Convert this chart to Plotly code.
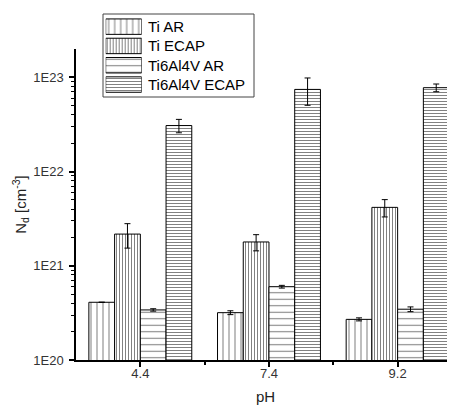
import plotly.graph_objects as go
import math

categories = ["4.4", "7.4", "9.2"]
ti_ar = [4.1e20, 3.18e20, 2.7e20]
ti_ar_err = [0.0, 0.15e20, 0.1e20]
ti_ecap = [2.17e21, 1.79e21, 4.17e21]
ti_ecap_err = [0.63e21, 0.35e21, 0.87e21]
tia_ar = [3.4e20, 6.0e20, 3.46e20]
tia_ar_err = [0.1e20, 0.2e20, 0.2e20]
tia_ecap = [3.08e22, 7.45e22, 7.77e22]
tia_ecap_err = [0.5e22, 2.4e22, 0.73e22]

series_names = ["Ti AR", "Ti ECAP", "Ti6Al4V AR", "Ti6Al4V ECAP"]
pattern_shapes = ["|", "|", "-", "-"]
pattern_sizes = [6, 3, 6.5, 3]
pattern_solidity = [0.17, 0.33, 0.16, 0.33]

y_ticks = [1e20, 1e21, 1e22, 1e23]
y_ticktext = ["1E20", "1E21", "1E22", "1E23"]

xpos = [1, 2, 3]
FONT = "Liberation Sans, Arial, sans-serif"

# the page body adds an 8px margin; size the figure to fit the window
OFF = 8
W, H = 455 - OFF, 405 - OFF


def px(x):
    return (x - OFF) / W


def py(y):
    return 1 - (y - OFF) / H


values = [ti_ar, ti_ecap, tia_ar, tia_ecap]
errors = [ti_ar_err, ti_ecap_err, tia_ar_err, tia_ecap_err]

fig = go.Figure()
for i in range(4):
    fig.add_trace(go.Bar(
        x=xpos, y=values[i], name=series_names[i], showlegend=False,
        marker=dict(color="white",
                    line=dict(color="black", width=1),
                    pattern=dict(shape=pattern_shapes[i], size=pattern_sizes[i],
                                 solidity=pattern_solidity[i],
                                 fgcolor="black", bgcolor="white")),
        error_y=dict(type="data", array=errors[i], visible=True,
                     color="black", thickness=1, width=3),
    ))

# legend swatches (drawn as a small bar chart on its own axes)
fig.add_trace(go.Bar(
    x=[1, 1, 1, 1], y=[0, 1, 2, 3], orientation="h",
    xaxis="x2", yaxis="y2", showlegend=False, hoverinfo="skip",
    marker=dict(color="white", line=dict(color="black", width=1),
                pattern=dict(shape=pattern_shapes, size=pattern_sizes,
                             solidity=pattern_solidity,
                             fgcolor="black", bgcolor="white")),
))

minor_y = []
for d in range(20, 24):
    for m in range(2, 10):
        v = float(m) * 10.0 ** d
        if v <= 2.0e23:
            minor_y.append(v)

# legend geometry (reference pixels)
leg_top, leg_row = 17.0, 19.3
ann = []
for i, nm in enumerate(series_names):
    yc = leg_top + leg_row * (i + 0.5)
    ann.append(dict(xref="paper", yref="paper", x=px(146), y=py(yc),
                    xanchor="left", yanchor="middle", showarrow=False,
                    text=nm, font=dict(size=15, color="black")))

fig.update_layout(
    width=W, height=H,
    margin=dict(l=0, r=0, t=0, b=0),
    paper_bgcolor="white", plot_bgcolor="rgba(0,0,0,0)",
    barmode="group", bargap=0.2, bargroupgap=0,
    font=dict(family=FONT, color="#222", size=13),
    showlegend=False,
    annotations=ann,
    shapes=[dict(type="rect", xref="paper", yref="paper",
                 x0=px(103), x1=px(254), y0=py(97), y1=py(14),
                 line=dict(color="#444", width=1), fillcolor="white",
                 layer="below")],
    xaxis=dict(domain=[px(76), 1.0], automargin=False,
               range=[0.5, 0.5 + 379 / 128.65],
               tickmode="array", tickvals=xpos, ticktext=categories,
               ticks="outside", ticklen=5, tickwidth=1.5, tickcolor="black",
               ticklabelstandoff=-4,
               showline=True, linecolor="black", linewidth=1.5,
               showgrid=False, zeroline=False,
               tickfont=dict(size=13, color="#333"),
               minor=dict(tickmode="array", tickvals=[1.5, 2.5],
                          ticks="outside", ticklen=3, tickwidth=1.5,
                          tickcolor="black"),
               title=dict(text="pH", font=dict(size=15, color="#222"),
                          standoff=16)),
    yaxis=dict(domain=[py(360), py(49)], automargin=False,
               type="log", range=[20, math.log10(2e23)],
               tickmode="array", tickvals=y_ticks, ticktext=y_ticktext,
               ticks="outside", ticklen=5, tickwidth=1.5, tickcolor="black",
               ticklabelstandoff=3,
               showline=True, linecolor="black", linewidth=1.5,
               showgrid=False, zeroline=False,
               tickfont=dict(size=13, color="#333"),
               minor=dict(tickmode="array", tickvals=minor_y,
                          ticks="outside", ticklen=3, tickwidth=1,
                          tickcolor="black"),
               title=dict(text="N<sub>d</sub> [cm<sup>-3</sup>]",
                          font=dict(size=15, color="#222"), standoff=3)),
    xaxis2=dict(domain=[px(105.7), px(141.7)], anchor="y2",
                range=[0, 1], visible=False, fixedrange=True),
    yaxis2=dict(domain=[py(leg_top + 4 * leg_row), py(leg_top)],
                anchor="x2", range=[3.5, -0.5], visible=False, fixedrange=True),
)

fig.write_html("out.html")
